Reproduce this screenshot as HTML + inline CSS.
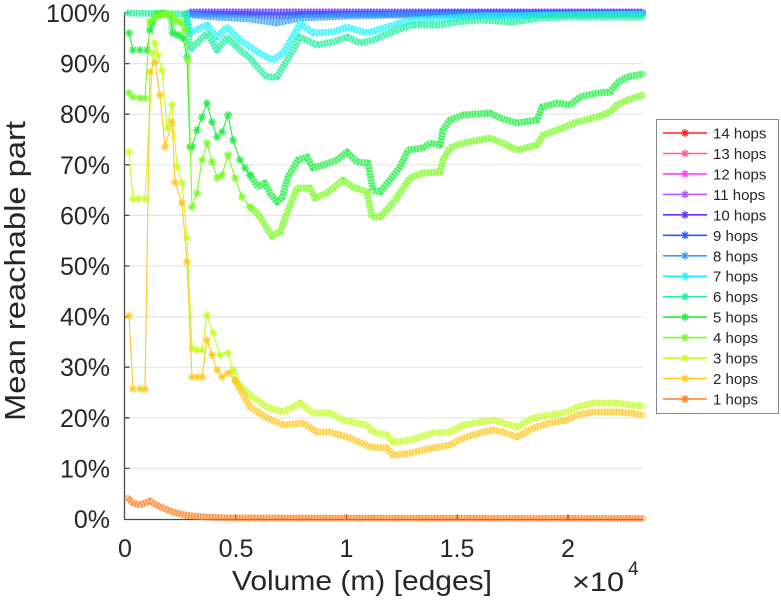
<!DOCTYPE html>
<html>
<head>
<meta charset="utf-8">
<style>
  html,body{margin:0;padding:0;background:#fff;}
  svg{display:block;}
  text{font-family:"Liberation Sans",Arial,sans-serif;fill:#262626;}
  .band{stroke-width:6.5;stroke-opacity:0.45;}
  .tex{stroke-width:7;stroke-opacity:0.75;stroke-dasharray:1.6 1.4;stroke-linecap:butt;}
</style>
</head>
<body>
<svg width="781" height="600" viewBox="0 0 781 600" xmlns="http://www.w3.org/2000/svg">
<defs>
  <marker id="m1" markerUnits="userSpaceOnUse" markerWidth="10" markerHeight="10" refX="5" refY="5" overflow="visible"><path d="M1,5H9M5,1V9M2.2,2.2L7.8,7.8M2.2,7.8L7.8,2.2" stroke="#FF8022" stroke-width="1.2" fill="none"/></marker>
  <marker id="m2" markerUnits="userSpaceOnUse" markerWidth="10" markerHeight="10" refX="5" refY="5" overflow="visible"><path d="M1,5H9M5,1V9M2.2,2.2L7.8,7.8M2.2,7.8L7.8,2.2" stroke="#FFC822" stroke-width="1.2" fill="none"/></marker>
  <marker id="m3" markerUnits="userSpaceOnUse" markerWidth="10" markerHeight="10" refX="5" refY="5" overflow="visible"><path d="M1,5H9M5,1V9M2.2,2.2L7.8,7.8M2.2,7.8L7.8,2.2" stroke="#C4FF22" stroke-width="1.2" fill="none"/></marker>
  <marker id="m4" markerUnits="userSpaceOnUse" markerWidth="10" markerHeight="10" refX="5" refY="5" overflow="visible"><path d="M1,5H9M5,1V9M2.2,2.2L7.8,7.8M2.2,7.8L7.8,2.2" stroke="#77FF22" stroke-width="1.2" fill="none"/></marker>
  <marker id="m5" markerUnits="userSpaceOnUse" markerWidth="10" markerHeight="10" refX="5" refY="5" overflow="visible"><path d="M1,5H9M5,1V9M2.2,2.2L7.8,7.8M2.2,7.8L7.8,2.2" stroke="#22F044" stroke-width="1.2" fill="none"/></marker>
  <marker id="m6" markerUnits="userSpaceOnUse" markerWidth="10" markerHeight="10" refX="5" refY="5" overflow="visible"><path d="M1,5H9M5,1V9M2.2,2.2L7.8,7.8M2.2,7.8L7.8,2.2" stroke="#22F0A0" stroke-width="1.2" fill="none"/></marker>
  <marker id="m7" markerUnits="userSpaceOnUse" markerWidth="10" markerHeight="10" refX="5" refY="5" overflow="visible"><path d="M1,5H9M5,1V9M2.2,2.2L7.8,7.8M2.2,7.8L7.8,2.2" stroke="#22F4FF" stroke-width="1.2" fill="none"/></marker>
  <marker id="m8" markerUnits="userSpaceOnUse" markerWidth="10" markerHeight="10" refX="5" refY="5" overflow="visible"><path d="M1,5H9M5,1V9M2.2,2.2L7.8,7.8M2.2,7.8L7.8,2.2" stroke="#33A0FF" stroke-width="1.2" fill="none"/></marker>
  <marker id="m9" markerUnits="userSpaceOnUse" markerWidth="10" markerHeight="10" refX="5" refY="5" overflow="visible"><path d="M1,5H9M5,1V9M2.2,2.2L7.8,7.8M2.2,7.8L7.8,2.2" stroke="#2F55FF" stroke-width="1.2" fill="none"/></marker>
  <marker id="m10" markerUnits="userSpaceOnUse" markerWidth="10" markerHeight="10" refX="5" refY="5" overflow="visible"><path d="M1,5H9M5,1V9M2.2,2.2L7.8,7.8M2.2,7.8L7.8,2.2" stroke="#6633FF" stroke-width="1.2" fill="none"/></marker>
</defs>

<!-- grid -->
<g stroke="#e6e6e6" stroke-width="1.2">
  <line x1="125" y1="468.4" x2="643" y2="468.4"/>
  <line x1="125" y1="417.8" x2="643" y2="417.8"/>
  <line x1="125" y1="367.2" x2="643" y2="367.2"/>
  <line x1="125" y1="316.6" x2="643" y2="316.6"/>
  <line x1="125" y1="266" x2="643" y2="266"/>
  <line x1="125" y1="215.4" x2="643" y2="215.4"/>
  <line x1="125" y1="164.8" x2="643" y2="164.8"/>
  <line x1="125" y1="114.2" x2="643" y2="114.2"/>
  <line x1="125" y1="63.6" x2="643" y2="63.6"/>
  <line x1="125" y1="13" x2="643" y2="13"/>
</g>

<!-- axes -->
<g stroke="#4a4a4a" stroke-width="1.3" fill="none">
  <line x1="124.5" y1="13" x2="124.5" y2="519.5"/>
  <line x1="124" y1="519.5" x2="643" y2="519.5"/>
  <path d="M124.5,468.4H129.5M124.5,417.8H129.5M124.5,367.2H129.5M124.5,316.6H129.5M124.5,266H129.5M124.5,215.4H129.5M124.5,164.8H129.5M124.5,114.2H129.5M124.5,63.6H129.5M124.5,13H129.5"/>
  <path d="M235.8,519.5V514.5M346.5,519.5V514.5M457.3,519.5V514.5M568,519.5V514.5"/>
</g>

<!-- series drawn 10 -> 1 -->
<g fill="none" stroke-linejoin="round" stroke-linecap="round">
  <!-- 10 hops -->
  <polyline class="band" points="190,12 643,12" stroke="#6633FF"/>
  <polyline class="tex" points="190,12 643,12" stroke="#6633FF"/>
  <!-- 9 hops -->
  <polyline class="band" points="186,14 250,14.5 280,16 300,14.5 400,14 450,13 643,13" stroke="#2F55FF"/>
  <polyline class="tex" points="186,14 250,14.5 280,16 300,14.5 400,14 450,13 643,13" stroke="#2F55FF"/>
  <!-- 8 hops -->
  <polyline class="band" points="186,14 200,16 250,19 277,23 300,18 350,16 400,15 643,14.5" stroke="#33A0FF"/>
  <polyline class="tex" points="186,14 200,16 250,19 277,23 300,18 350,16 400,15 643,14.5" stroke="#33A0FF"/>
  <!-- 7 hops -->
  <polyline class="band" points="186,13 190,33 200,28 207,25 217,37 227,27 240,40 250,47 263,55 273,60 283,53 297,30 300,23 313,33 333,32 347,27 367,33 387,27 400,23 413,20 447,18 480,16 513,16 547,15 643,14" stroke="#22F4FF"/>
  <polyline class="tex" points="186,13 190,33 200,28 207,25 217,37 227,27 240,40 250,47 263,55 273,60 283,53 297,30 300,23 313,33 333,32 347,27 367,33 387,27 400,23 413,20 447,18 480,16 513,16 547,15 643,14" stroke="#22F4FF"/>
  <!-- 6 hops -->
  <polyline class="band" points="127,13 186,14 190,50 200,40 207,33 217,50 227,37 240,50 250,58 260,70 267,77 277,77 283,67 293,50 300,37 317,45 333,42 347,37 360,43 373,40 380,37 397,30 413,25 440,25 457,22 480,20 513,22 540,18 567,17 597,17 643,17" stroke="#22F0A0"/>
  <polyline class="tex" points="127,13 186,14 190,50 200,40 207,33 217,50 227,37 240,50 250,58 260,70 267,77 277,77 283,67 293,50 300,37 317,45 333,42 347,37 360,43 373,40 380,37 397,30 413,25 440,25 457,22 480,20 513,22 540,18 567,17 597,17 643,17" stroke="#22F0A0"/>
  <!-- 5 hops -->
  <polyline class="band" points="150,30 152,23 157,14 163,13 170,15 173,33 178,35 183,38" stroke="#22F044"/>
  <polyline class="band" points="250,175 258,187 265,183 270,193 277,202 282,198 288,177 298,160 307,157 313,168 323,165 337,160 347,152 357,162 368,163 373,190 380,192 390,180 400,167 408,150 423,148 430,143 440,145 443,130 450,120 463,115 490,113 500,118 517,123 537,120 542,107 557,103 570,105 580,97 597,93 610,92 617,83 627,77 643,74" stroke="#22F044"/>
  <polyline class="tex" points="250,175 258,187 265,183 270,193 277,202 282,198 288,177 298,160 307,157 313,168 323,165 337,160 347,152 357,162 368,163 373,190 380,192 390,180 400,167 408,150 423,148 430,143 440,145 443,130 450,120 463,115 490,113 500,118 517,123 537,120 542,107 557,103 570,105 580,97 597,93 610,92 617,83 627,77 643,74" stroke="#22F044"/>
  <polyline points="129,33 133,50 140,50 147,50 150,30 152,23 157,14 163,13 170,15 173,33 178,35 183,38 187,57 190,147 192,147 197,130 202,117 207,103 212,122 217,137 222,132 228,115 233,140 240,160 245,168 250,175" stroke="#22F044" stroke-width="1.1" marker-start="url(#m5)" marker-mid="url(#m5)" marker-end="url(#m5)"/>
  <!-- 4 hops -->
  <polyline class="band" points="150,22 155,17 160,15 165,14 170,14 175,20 180,22 185,30" stroke="#77FF22"/>
  <polyline class="band" points="250,207 258,214 265,225 272,236 280,232 287,213 297,188 310,188 315,198 327,193 343,180 353,187 367,192 372,217 380,217 393,203 410,178 423,173 440,172 443,160 450,148 463,143 490,138 500,142 517,150 537,145 543,135 557,130 577,122 597,117 610,112 617,105 627,100 643,95" stroke="#77FF22"/>
  <polyline class="tex" points="250,207 258,214 265,225 272,236 280,232 287,213 297,188 310,188 315,198 327,193 343,180 353,187 367,192 372,217 380,217 393,203 410,178 423,173 440,172 443,160 450,148 463,143 490,138 500,142 517,150 537,145 543,135 557,130 577,122 597,117 610,112 617,105 627,100 643,95" stroke="#77FF22"/>
  <polyline points="129,93 133,97 140,98 145,98 150,22 155,17 160,15 165,14 170,14 175,20 180,22 185,30 188,60 192,207 197,193 202,160 207,143 212,162 217,178 222,175 228,155 235,178 242,197 250,207" stroke="#77FF22" stroke-width="1.1" marker-start="url(#m4)" marker-mid="url(#m4)" marker-end="url(#m4)"/>
  <!-- 3 hops -->
  <polyline class="band" points="233,370 237,383 250,395 267,407 283,412 300,403 313,413 330,413 343,420 367,425 373,432 387,435 393,442 397,442 410,440 433,433 450,432 463,425 480,422 493,420 503,423 517,427 533,418 550,415 567,412 577,407 593,403 617,403 630,405 643,406" stroke="#C4FF22"/>
  <polyline class="tex" points="233,370 237,383 250,395 267,407 283,412 300,403 313,413 330,413 343,420 367,425 373,432 387,435 393,442 397,442 410,440 433,433 450,432 463,425 480,422 493,420 503,423 517,427 533,418 550,415 567,412 577,407 593,403 617,403 630,405 643,406" stroke="#C4FF22"/>
  <polyline points="129,152 133,199 138,199 145,199 153,53 155,43 158,55 162,70 167,128 172,105 177,167 182,183 187,238 192,348 197,350 202,350 207,315 213,333 220,355 228,353 233,370" stroke="#C4FF22" stroke-width="1.1" marker-start="url(#m3)" marker-mid="url(#m3)" marker-end="url(#m3)"/>
  <!-- 2 hops -->
  <polyline class="band" points="235,380 250,407 267,418 283,425 303,423 317,432 330,432 350,438 370,447 387,448 393,455 397,455 410,453 433,448 450,445 463,438 480,433 493,430 503,432 517,437 533,428 550,423 567,420 577,415 593,412 617,412 630,413 643,415" stroke="#FFC822"/>
  <polyline class="tex" points="235,380 250,407 267,418 283,425 303,423 317,432 330,432 350,438 370,447 387,448 393,455 397,455 410,453 433,448 450,445 463,438 480,433 493,430 503,432 517,437 533,428 550,423 567,420 577,415 593,412 617,412 630,413 643,415" stroke="#FFC822"/>
  <polyline points="129,316 133,389 140,389 145,389 150,72 155,62 160,95 165,147 172,122 175,182 182,203 187,262 192,377 197,377 202,377 207,340 212,355 217,370 222,377 228,373 235,380" stroke="#FFC822" stroke-width="1.1" marker-start="url(#m2)" marker-mid="url(#m2)" marker-end="url(#m2)"/>
  <!-- 1 hops -->
  <polyline class="band" points="128,498 133,503 140,505 145,503 150,501 155,504 163,508 170,511 177,513 185,515 193,516 205,517 230,518 643,518.5" stroke="#FF8022"/>
  <polyline class="tex" points="128,498 133,503 140,505 145,503 150,501 155,504 163,508 170,511 177,513 185,515 193,516 205,517 230,518 643,518.5" stroke="#FF8022"/>
</g>

<!-- y tick labels -->
<g font-size="25" text-anchor="end">
  <text x="110" y="22">100%</text>
  <text x="110" y="72.6">90%</text>
  <text x="110" y="123.2">80%</text>
  <text x="110" y="173.8">70%</text>
  <text x="110" y="224.4">60%</text>
  <text x="110" y="275">50%</text>
  <text x="110" y="325.6">40%</text>
  <text x="110" y="376.2">30%</text>
  <text x="110" y="426.8">20%</text>
  <text x="110" y="477.4">10%</text>
  <text x="110" y="528">0%</text>
</g>

<!-- x tick labels -->
<g font-size="25" text-anchor="middle">
  <text x="125" y="557">0</text>
  <text x="236" y="557">0.5</text>
  <text x="346.5" y="557">1</text>
  <text x="457" y="557">1.5</text>
  <text x="568" y="557">2</text>
</g>

<!-- axis labels -->
<text x="362" y="590" font-size="28" text-anchor="middle" textLength="260" lengthAdjust="spacingAndGlyphs">Volume (m) [edges]</text>
<text x="572" y="591" font-size="27" textLength="52" lengthAdjust="spacingAndGlyphs">×10</text>
<text x="628" y="575" font-size="19">4</text>
<text transform="translate(25,271) rotate(-90)" font-size="29" text-anchor="middle" textLength="300" lengthAdjust="spacingAndGlyphs">Mean reachable part</text>

<!-- legend -->
<rect x="656.5" y="119.5" width="122" height="294" fill="#fff" stroke="#8a8a8a" stroke-width="1"/>
<g stroke-width="1.6">
  <line x1="663" y1="133" x2="707" y2="133" stroke="#FF2222"/>
  <line x1="663" y1="153.5" x2="707" y2="153.5" stroke="#FF5C8A"/>
  <line x1="663" y1="173.9" x2="707" y2="173.9" stroke="#FF44EE"/>
  <line x1="663" y1="194.4" x2="707" y2="194.4" stroke="#BB55FF"/>
  <line x1="663" y1="214.8" x2="707" y2="214.8" stroke="#6633FF"/>
  <line x1="663" y1="235.3" x2="707" y2="235.3" stroke="#2F55FF"/>
  <line x1="663" y1="255.8" x2="707" y2="255.8" stroke="#33A0FF"/>
  <line x1="663" y1="276.2" x2="707" y2="276.2" stroke="#22F4FF"/>
  <line x1="663" y1="296.7" x2="707" y2="296.7" stroke="#22F0A0"/>
  <line x1="663" y1="317.1" x2="707" y2="317.1" stroke="#22F044"/>
  <line x1="663" y1="337.6" x2="707" y2="337.6" stroke="#77FF22"/>
  <line x1="663" y1="358.1" x2="707" y2="358.1" stroke="#C4FF22"/>
  <line x1="663" y1="378.5" x2="707" y2="378.5" stroke="#FFC822"/>
  <line x1="663" y1="399" x2="707" y2="399" stroke="#FF8022"/>
</g>
<g fill="none" stroke-width="1.4">
  <path transform="translate(685,133)" d="M-4,0H4M0,-4V4M-2.8,-2.8L2.8,2.8M-2.8,2.8L2.8,-2.8" stroke="#FF2222"/>
  <path transform="translate(685,153.5)" d="M-4,0H4M0,-4V4M-2.8,-2.8L2.8,2.8M-2.8,2.8L2.8,-2.8" stroke="#FF5C8A"/>
  <path transform="translate(685,173.9)" d="M-4,0H4M0,-4V4M-2.8,-2.8L2.8,2.8M-2.8,2.8L2.8,-2.8" stroke="#FF44EE"/>
  <path transform="translate(685,194.4)" d="M-4,0H4M0,-4V4M-2.8,-2.8L2.8,2.8M-2.8,2.8L2.8,-2.8" stroke="#BB55FF"/>
  <path transform="translate(685,214.8)" d="M-4,0H4M0,-4V4M-2.8,-2.8L2.8,2.8M-2.8,2.8L2.8,-2.8" stroke="#6633FF"/>
  <path transform="translate(685,235.3)" d="M-4,0H4M0,-4V4M-2.8,-2.8L2.8,2.8M-2.8,2.8L2.8,-2.8" stroke="#2F55FF"/>
  <path transform="translate(685,255.8)" d="M-4,0H4M0,-4V4M-2.8,-2.8L2.8,2.8M-2.8,2.8L2.8,-2.8" stroke="#33A0FF"/>
  <path transform="translate(685,276.2)" d="M-4,0H4M0,-4V4M-2.8,-2.8L2.8,2.8M-2.8,2.8L2.8,-2.8" stroke="#22F4FF"/>
  <path transform="translate(685,296.7)" d="M-4,0H4M0,-4V4M-2.8,-2.8L2.8,2.8M-2.8,2.8L2.8,-2.8" stroke="#22F0A0"/>
  <path transform="translate(685,317.1)" d="M-4,0H4M0,-4V4M-2.8,-2.8L2.8,2.8M-2.8,2.8L2.8,-2.8" stroke="#22F044"/>
  <path transform="translate(685,337.6)" d="M-4,0H4M0,-4V4M-2.8,-2.8L2.8,2.8M-2.8,2.8L2.8,-2.8" stroke="#77FF22"/>
  <path transform="translate(685,358.1)" d="M-4,0H4M0,-4V4M-2.8,-2.8L2.8,2.8M-2.8,2.8L2.8,-2.8" stroke="#C4FF22"/>
  <path transform="translate(685,378.5)" d="M-4,0H4M0,-4V4M-2.8,-2.8L2.8,2.8M-2.8,2.8L2.8,-2.8" stroke="#FFC822"/>
  <path transform="translate(685,399)" d="M-4,0H4M0,-4V4M-2.8,-2.8L2.8,2.8M-2.8,2.8L2.8,-2.8" stroke="#FF8022"/>
</g>
<g font-size="15">
  <text x="713" y="138.5">14 hops</text>
  <text x="713" y="159">13 hops</text>
  <text x="713" y="179.4">12 hops</text>
  <text x="713" y="199.9">11 hops</text>
  <text x="713" y="220.3">10 hops</text>
  <text x="713" y="240.8">9 hops</text>
  <text x="713" y="261.3">8 hops</text>
  <text x="713" y="281.7">7 hops</text>
  <text x="713" y="302.2">6 hops</text>
  <text x="713" y="322.6">5 hops</text>
  <text x="713" y="343.1">4 hops</text>
  <text x="713" y="363.6">3 hops</text>
  <text x="713" y="384">2 hops</text>
  <text x="713" y="404.5">1 hops</text>
</g>
</svg>
</body>
</html>
